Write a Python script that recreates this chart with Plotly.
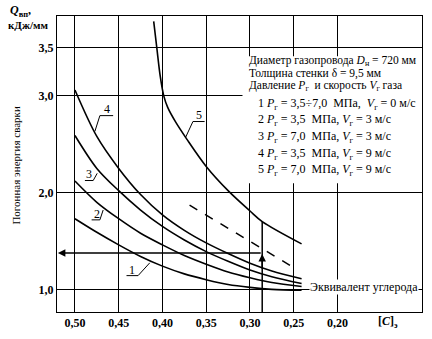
import plotly.graph_objects as go

# ---------------- data ----------------
x_ticks = [0.50, 0.45, 0.40, 0.35, 0.30, 0.25, 0.20]
x_ticktext = ["0,50", "0,45", "0,40", "0,35", "0,30", "0,25", "0,20"]
y_ticks = [1.0, 2.0, 3.0, 3.5]
y_ticktext = ["1,0", "2,0", "3,0", "3,5"]

cx = [0.50, 0.475, 0.45, 0.425, 0.40, 0.375, 0.35, 0.325, 0.30, 0.275, 0.241]
c1_y = [1.73, 1.59, 1.46, 1.34, 1.24, 1.16, 1.10, 1.05, 1.02, 1.00, 0.99]
c2_y = [2.12, 1.90, 1.73, 1.58, 1.46, 1.35, 1.26, 1.18, 1.12, 1.07, 1.03]
c3_y = [2.59, 2.25, 2.02, 1.82, 1.65, 1.51, 1.39, 1.29, 1.20, 1.13, 1.06]
c4_y = [3.06, 2.58, 2.25, 1.98, 1.77, 1.61, 1.48, 1.37, 1.27, 1.19, 1.11]

c5_x = [0.41, 0.4065, 0.4025, 0.3985, 0.394, 0.385, 0.372, 0.35, 0.325, 0.30, 0.286, 0.241]
c5_y = [3.77, 3.50, 3.20, 3.00, 2.88, 2.73, 2.55, 2.27, 2.02, 1.81, 1.70, 1.47]

dash_x = [0.369, 0.249]
dash_y = [1.87, 1.22]

example_c = 0.286      # carbon equivalent of the worked example
example_q = 1.375      # resulting heat input
example_top = 1.70     # intersection with curve 5

legend_lines = [
    "1 <i>P</i><sub>г</sub> = 3,5÷7,0  МПа,  <i>V</i><sub>г</sub> = 0 м/с",
    "2 <i>P</i><sub>г</sub> = 3,5  МПа, <i>V</i><sub>г</sub> = 3 м/с",
    "3 <i>P</i><sub>г</sub> = 7,0  МПа, <i>V</i><sub>г</sub> = 3 м/с",
    "4 <i>P</i><sub>г</sub> = 3,5  МПа, <i>V</i><sub>г</sub> = 9 м/с",
    "5 <i>P</i><sub>г</sub> = 7,0  МПа, <i>V</i><sub>г</sub> = 9 м/с",
]
header_lines = [
    "Диаметр газопровода <i>D</i><sub>н</sub> = 720 мм",
    "Толщина стенки δ = 9,5 мм",
    "Давление <i>P</i><sub>г</sub>  и скорость <i>V</i><sub>г</sub> газа",
]

# ---------------- layout helpers ----------------
W, H = 432, 339
L, R, T, B = 57, 9, 16, 22
XR = [0.5205, 0.1034]
YR = [0.766, 3.825]
FONT = "Liberation Serif"


def pap(px, py):
    return (px - L) / (W - L - R), (H - B - py) / (H - T - B)


def fx(px):
    return XR[0] + (px - L) / (W - L - R) * (XR[1] - XR[0])


def fy(py):
    return YR[0] + (H - B - py) / (H - T - B) * (YR[1] - YR[0])


fig = go.Figure()
for xs, ys in [(cx, c1_y), (cx, c2_y), (cx, c3_y), (cx, c4_y), (c5_x, c5_y)]:
    fig.add_trace(go.Scatter(x=xs, y=ys, mode="lines",
                             line=dict(color="black", width=1.6, shape="spline", smoothing=0.9),
                             showlegend=False, hoverinfo="skip"))
fig.add_trace(go.Scatter(x=dash_x, y=dash_y, mode="lines",
                         line=dict(color="black", width=1.5, dash="dash"),
                         showlegend=False, hoverinfo="skip"))

shapes = []
# white box behind legend text
x0, y0 = pap(243, 186)
x1, y1 = pap(423, 57)
shapes.append(dict(type="rect", xref="paper", yref="paper", x0=x0, x1=x1, y0=y0, y1=y1,
                   fillcolor="white", line=dict(width=0), layer="above"))
# example vertical line
shapes.append(dict(type="line", xref="x", yref="paper", x0=example_c, x1=example_c,
                   y0=0, y1=(example_top - YR[0]) / (YR[1] - YR[0]),
                   line=dict(color="black", width=1.5)))

# curve label leaders (underline + leader) in pixel space
leaders = [
    [(126.7, 280), (138.3, 280), (150, 267)],
    [(91.7, 223.3), (100, 223.3), (103.3, 213.3)],
    [(85, 183.3), (93.3, 183.3), (97.3, 176)],
    [(113.3, 117.3), (100, 117.3), (95, 133.3)],
    [(205, 123.3), (193.3, 123.3), (186, 139.3)],
]
for pts in leaders:
    path = "M " + " L ".join(f"{fx(a)},{fy(b)}" for a, b in pts)
    shapes.append(dict(type="path", xref="x", yref="y", path=path,
                       line=dict(color="black", width=1)))

annotations = []
label_pos = [("1", 132, 274), ("2", 96.7, 217), ("3", 89, 177), ("4", 107, 111), ("5", 199, 117)]
for t, a, b in label_pos:
    annotations.append(dict(x=fx(a), y=fy(b), xref="x", yref="y", text=t, showarrow=False,
                            font=dict(family=FONT, size=12, color="black")))

# arrows of the worked example
annotations.append(dict(x=example_c, y=1.365, ax=example_c, ay=1.2, xref="x", yref="y",
                        axref="x", ayref="y", text="", showarrow=True, arrowhead=2,
                        arrowsize=1, arrowwidth=1.5, arrowcolor="black"))
annotations.append(dict(x=XR[0] - 0.001, y=example_q, ax=example_c, ay=example_q, xref="x", yref="y",
                        axref="x", ayref="y", text="", showarrow=True, arrowhead=2,
                        arrowsize=1, arrowwidth=1.5, arrowcolor="black"))

# legend text
for t, py in zip(header_lines, [62, 74.5, 87]):
    px_, py_ = pap(248, py)
    annotations.append(dict(x=px_, y=py_, xref="paper", yref="paper", text=t, showarrow=False,
                            xanchor="left", yanchor="middle",
                            font=dict(family=FONT, size=11.5, color="black")))
for t, py in zip(legend_lines, [105, 122, 139, 156, 173]):
    px_, py_ = pap(257, py)
    annotations.append(dict(x=px_, y=py_, xref="paper", yref="paper", text=t, showarrow=False,
                            xanchor="left", yanchor="middle",
                            font=dict(family=FONT, size=12, color="black")))

# carbon equivalent label
px_, py_ = pap(310, 292)
annotations.append(dict(x=px_, y=py_, xref="paper", yref="paper", text="Эквивалент углерода",
                        showarrow=False, xanchor="left", yanchor="middle", bgcolor="white",
                        borderpad=0, font=dict(family=FONT, size=12, color="black")))

# axis titles
px_, py_ = pap(389, 327)
annotations.append(dict(x=px_, y=py_, xref="paper", yref="paper", text="[<i>C</i>]<sub>э</sub>",
                        showarrow=False, xanchor="center", yanchor="middle",
                        font=dict(family=FONT, size=12, color="black", weight="bold")))
px_, py_ = pap(16, 168)
annotations.append(dict(x=px_, y=py_, xref="paper", yref="paper", text="Погонная энергия сварки",
                        showarrow=False, textangle=-90, xanchor="center", yanchor="middle",
                        font=dict(family=FONT, size=11, color="black")))
px_, py_ = pap(8, 11)
annotations.append(dict(x=px_, y=py_, xref="paper", yref="paper", text="<i>Q</i><sub>вп</sub>,",
                        showarrow=False, xanchor="left", yanchor="middle",
                        font=dict(family=FONT, size=12, color="black", weight="bold")))
px_, py_ = pap(6, 25)
annotations.append(dict(x=px_, y=py_, xref="paper", yref="paper", text="кДж/мм",
                        showarrow=False, xanchor="left", yanchor="middle",
                        font=dict(family=FONT, size=11, color="black", weight="bold")))

fig.update_layout(
    width=W, height=H, margin=dict(l=L, r=R, t=T, b=B, pad=0),
    plot_bgcolor="white", paper_bgcolor="white",
    shapes=shapes, annotations=annotations, showlegend=False,
    xaxis=dict(range=XR, tickvals=x_ticks, ticktext=x_ticktext, showgrid=True,
               gridcolor="black", gridwidth=1, showline=True, linecolor="black", linewidth=1,
               mirror=True, ticks="", zeroline=False,
               tickfont=dict(family=FONT, size=12, color="black", weight="bold")),
    yaxis=dict(range=YR, tickvals=y_ticks, ticktext=y_ticktext, showgrid=True,
               gridcolor="black", gridwidth=1, showline=True, linecolor="black", linewidth=1,
               mirror=True, ticks="", zeroline=False,
               tickfont=dict(family=FONT, size=12, color="black", weight="bold")),
)

fig.write_html("out.html")
